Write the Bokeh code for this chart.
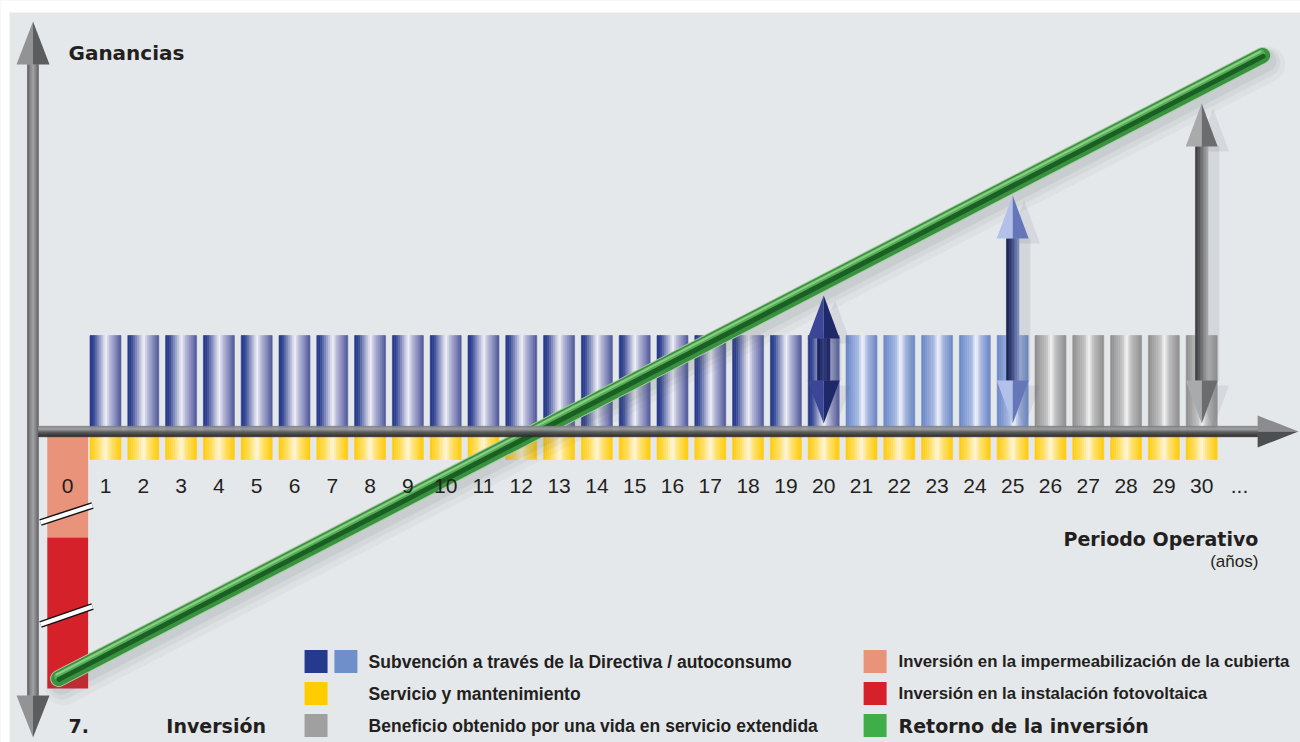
import math
from bokeh.plotting import figure
from bokeh.models import Range1d, BoxAnnotation
from bokeh.core.properties import value
from bokeh.embed import file_html
from bokeh.resources import INLINE

# ---------------- data (chart units: x = year, y = relative gain) ----------------
years = list(range(1, 31))
bar_group = ["directiva"] * 20 + ["autoconsumo"] * 5 + ["vida"] * 5
annual_benefit = [9.6] * 30
service_cost = [-2.8] * 30
year0 = 0
roof_investment = -10.6
pv_investment = -15.1
return_x = [-0.24, 31.61]
return_y = [-24.7, 37.6]
arrow_years = [20, 25, 30]
arrow_top = [13.6, 23.6, 32.8]
arrow_bottom = [0.8, 0.8, 0.8]
tick_pos = list(range(0, 31)) + [31]
tick_labels = [str(i) for i in range(0, 31)] + ["..."]

legend_left_labels = ["Subvención a través de la Directiva / autoconsumo",
                      "Servicio y mantenimiento",
                      "Beneficio obtenido por una vida en servicio extendida"]
legend_right_labels = ["Inversión en la impermeabilización de la cubierta",
                       "Inversión en la instalación fotovoltaica",
                       "Retorno de la inversión"]

# ---------------- styles ----------------
BG = "#e5e8eb"
TXT = "#231f20"
STOPS = {
    "directiva": [(0, "#24378a"), (0.12, "#2f4190"), (0.52, "#f2f2f8"), (0.64, "#babdda"),
                  (0.86, "#7b80b6"), (1, "#4e5799")],
    "autoconsumo": [(0, "#6685c6"), (0.4, "#a6b9e2"), (0.55, "#f5f7fc"), (0.7, "#a7b7df"),
                    (1, "#6a86c5")],
    "vida": [(0, "#8c8c8c"), (0.4, "#c4c4c4"), (0.52, "#f4f4f4"), (0.68, "#bdbdbd"),
             (1, "#8e8e8e")],
}
YELLOW = [(0, "#ffcb05"), (0.3, "#ffe06a"), (0.52, "#fff7dc"), (0.66, "#ffe47a"), (1, "#ffcb05")]
VAXIS = [(0, "#4f5052"), (0.35, "#8e8f91"), (0.55, "#a3a4a6"), (1, "#5d5e60")]
HAXIS = [(0, "#7a7b7d"), (0.3, "#a2a3a5"), (0.6, "#545557"), (1, "#2a2a2c")]
ARROW_STYLE = {
    "directiva": dict(shaft=[(0, "#161d55"), (0.5, "#2e3878"), (1, "#1a2260")],
                      hl="#3b4796", hr="#1f2868"),
    "autoconsumo": dict(shaft=[(0, "#18204a"), (0.5, "#3a4880"), (1, "#8090c4")],
                        hl="#b3c0ea", hr="#6677b9"),
    "vida": dict(shaft=[(0, "#38393b"), (0.5, "#6a6b6d"), (1, "#a5a6a8")],
                 hl="#a9aaac", hr="#6b6c6e"),
}
BAR_W = 0.82
SX, SY = 37.8, 10.0   # screen px per x / y unit


def rgb(h):
    h = h.lstrip("#")
    return [int(h[i:i + 2], 16) for i in (0, 2, 4)]


def grad(stops, t):
    for (t0, c0), (t1, c1) in zip(stops[:-1], stops[1:]):
        if t <= t1:
            f = 0 if t1 == t0 else (t - t0) / (t1 - t0)
            a, b = rgb(c0), rgb(c1)
            return "#%02x%02x%02x" % tuple(round(a[i] + (b[i] - a[i]) * f) for i in range(3))
    return stops[-1][1]


def new_acc():
    return dict(left=[], right=[], bottom=[], top=[], color=[])


def vstrips(acc, xc, w, y0, y1, stops, n=16):
    for i in range(n):
        l = xc - w / 2 + w * i / n
        acc["left"].append(l)
        acc["right"].append(l + w / n)
        acc["bottom"].append(min(y0, y1))
        acc["top"].append(max(y0, y1))
        acc["color"].append(grad(stops, (i + 0.5) / n))


def hstrips(acc, x0, x1, yc, h, stops, n=10):
    for i in range(n):
        t = yc + h / 2 - h * i / n
        acc["left"].append(x0)
        acc["right"].append(x1)
        acc["top"].append(t)
        acc["bottom"].append(t - h / n)
        acc["color"].append(grad(stops, (i + 0.5) / n))


def draw_strips(p, acc, **kw):
    p.quad(left="left", right="right", bottom="bottom", top="top", source=acc,
           fill_color="color", line_color="color", line_width=0.6, **kw)


p = figure(width=1300, height=742, x_range=Range1d(-1.778, 32.614),
           y_range=Range1d(-31.1, 43.1), output_backend="svg", toolbar_location=None,
           min_border=0, x_axis_location=None, y_axis_location=None)
p.grid.visible = False
p.outline_line_color = None
p.background_fill_color = BG
p.border_fill_color = "white"
p.add_layout(BoxAnnotation(bottom=41.9, fill_color="white", fill_alpha=1, line_color=None))
p.add_layout(BoxAnnotation(right=-1.540, fill_color="white", fill_alpha=1, line_color=None))

# ---- year 0 investment bar ----
p.quad(left=[year0 - 0.54], right=[year0 + 0.54], top=[0], bottom=[roof_investment],
       fill_color="#e8937a", line_color=None)
p.quad(left=[year0 - 0.54], right=[year0 + 0.54], top=[roof_investment],
       bottom=[roof_investment + pv_investment], fill_color="#d4212a", line_color=None)
# break marks
for yb in [(-9.1, -7.4), (-19.3, -17.5)]:
    p.line([-0.72, 0.656], list(yb), line_color="#111111", line_width=7)
    p.line([-0.72, 0.656], list(yb), line_color="#ffffff", line_width=4)

# ---- benefit bars and service bars ----
acc = new_acc()
for yr, g, b in zip(years, bar_group, annual_benefit):
    vstrips(acc, yr, BAR_W, 0, b, STOPS[g])
for yr, s in zip(years, service_cost):
    vstrips(acc, yr, BAR_W, 0, s, YELLOW)
draw_strips(p, acc)

# ---- return of investment line (tube) ----
ang = math.atan2((return_y[1] - return_y[0]) * SY, (return_x[1] - return_x[0]) * SX)


def off(d):
    dx = -d * math.sin(ang) / SX
    dy = d * math.cos(ang) / SY
    return [x + dx for x in return_x], [y + dy for y in return_y]


for d, w, a in [(-10, 36, 0.05), (-8, 28, 0.07), (-6, 22, 0.09)]:
    xs, ys = off(d)
    p.line(xs, ys, line_color="#5a6068", line_alpha=a, line_width=w, line_cap="round")
xs, ys = off(0)
p.line(xs, ys, line_color="#a9cfa2", line_width=17, line_cap="round")
p.line(xs, ys, line_color="#3a9140", line_width=15, line_cap="round")
xs, ys = off(2.5)
p.line(xs, ys, line_color="#56ad58", line_width=7, line_cap="round")
xs, ys = off(-1.0)
p.line(xs, ys, line_color="#1a6023", line_width=5, line_cap="round")
xs, ys = off(4.5)
p.line(xs, ys, line_color="#8ccd86", line_width=2, line_cap="round")

# ---- axes ----
ax = new_acc()
vx = -0.918
vstrips(ax, vx, 0.292, 36.7, -26.4, VAXIS, n=10)
hstrips(ax, -0.772, 31.48, 0.0, 1.05, HAXIS, n=10)
draw_strips(p, ax)
hw = 0.437
p.patches(xs=[[vx - hw, vx, vx], [vx, vx + hw, vx], [vx - hw, vx, vx], [vx, vx + hw, vx],
              [31.48, 31.48, 32.56], [31.48, 31.48, 32.56]],
          ys=[[36.7, 36.7, 41.0], [36.7, 36.7, 41.0], [-26.4, -26.4, -30.6], [-26.4, -26.4, -30.6],
              [0, 1.6, 0], [0, -1.6, 0]],
          fill_color=["#929395", "#5c5d5f", "#929395", "#5c5d5f", "#8b8c8e", "#4d4e50"],
          line_color=None)

# ---- value arrows ----
sh = new_acc()
arr = new_acc()
head_xs, head_ys, head_c = [], [], []
sh_xs, sh_ys = [], []
HW, SW, HH = 0.423, 0.33, 4.3
for yr, top, bot in zip(arrow_years, arrow_top, arrow_bottom):
    st = ARROW_STYLE[bar_group[yr - 1]]
    ub = top - HH   # base of upper head
    lb = bot + HH   # base of lower head
    vstrips(arr, yr, SW, lb, ub, st["shaft"], n=8)
    sh["left"].append(yr + SW / 2)
    sh["right"].append(yr + SW / 2 + 0.3)
    sh["bottom"].append(lb)
    sh["top"].append(ub)
    sh["color"].append("#6b7078")
    for base, tip in [(ub, top), (lb, bot)]:
        head_xs += [[yr - HW, yr, yr], [yr, yr + HW, yr]]
        head_ys += [[base, base, tip], [base, base, tip]]
        head_c += [st["hl"], st["hr"]]
        sh_xs.append([yr - HW + 0.3, yr + HW + 0.3, yr + 0.3])
        sh_ys.append([base - 0.5, base - 0.5, tip - 0.5])
p.quad(left="left", right="right", bottom="bottom", top="top", source=sh,
       fill_color="color", fill_alpha=0.15, line_color=None)
p.patches(xs=sh_xs, ys=sh_ys, fill_color="#6b7078", fill_alpha=0.13, line_color=None)
draw_strips(p, arr)
p.patches(xs=head_xs, ys=head_ys, fill_color=head_c, line_color=None)

# ---- texts ----
p.text(x=tick_pos, y=[-5.4] * len(tick_pos), text=tick_labels, text_align="center",
       text_baseline="alphabetic", text_font=value("Liberation Sans"), text_font_size="21px",
       text_color=TXT)
p.text(x=[0.02], y=[37.9], text=["Ganancias"], text_font=value("DejaVu Sans"),
       text_font_style="bold", text_font_size="20px", text_color=TXT, text_baseline="alphabetic")
p.text(x=[31.5], y=[-10.7], text=["Periodo Operativo"], text_font=value("DejaVu Sans"),
       text_font_style="bold", text_font_size="19px", text_color=TXT, text_align="right",
       text_baseline="alphabetic")
p.text(x=[31.5], y=[-13.0], text=["(años)"], text_font=value("Liberation Sans"),
       text_font_size="17px", text_color=TXT, text_align="right", text_baseline="alphabetic")
p.text(x=[0.02, 2.61], y=[-29.4, -29.4], text=["7.", "Inversión"], text_font=value("DejaVu Sans"),
       text_font_style="bold", text_font_size="19px", text_color=TXT, text_baseline="middle")

# ---- legend ----
rows = [-23.0, -26.2, -29.4]
p.rect(x=[6.57, 7.36, 6.57, 6.57, 21.36, 21.36, 21.36],
       y=[rows[0], rows[0], rows[1], rows[2], rows[0], rows[1], rows[2]],
       width=23, height=23, width_units="screen", height_units="screen",
       fill_color=["#253a8c", "#6f8fca", "#ffcc00", "#a0a0a0", "#e8937a", "#d4212a", "#3fae49"],
       line_color=None)
p.text(x=[7.96] * 3, y=rows, text=legend_left_labels, text_font=value("Liberation Sans"),
       text_font_style="bold", text_font_size="17.5px", text_color=TXT, text_baseline="middle")
p.text(x=[21.98] * 2, y=rows[:2], text=legend_right_labels[:2], text_font=value("Liberation Sans"),
       text_font_style="bold", text_font_size="16.8px", text_color=TXT, text_baseline="middle")
p.text(x=[21.98], y=[rows[2]], text=legend_right_labels[2:], text_font=value("DejaVu Sans"),
       text_font_style="bold", text_font_size="19px", text_color=TXT, text_baseline="middle")

open("out.html", "w").write(file_html(p, INLINE))
